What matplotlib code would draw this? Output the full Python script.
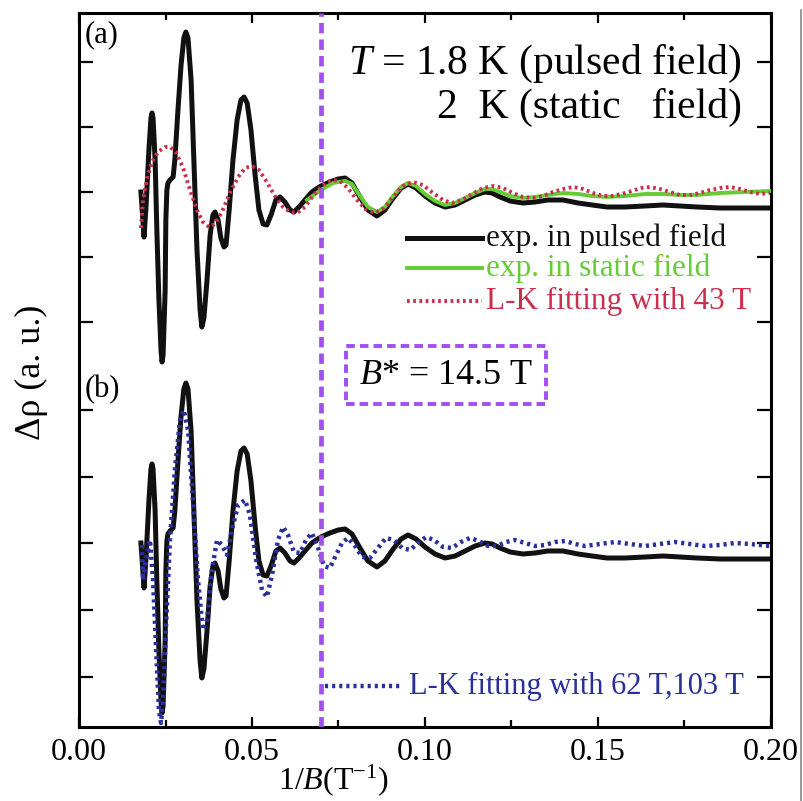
import matplotlib
matplotlib.use("Agg")
import matplotlib.pyplot as plt
from matplotlib.lines import Line2D

plt.rcParams['font.family'] = ['Liberation Serif', 'DejaVu Serif']
plt.rcParams['mathtext.fontset'] = 'custom'
plt.rcParams['mathtext.rm'] = 'Liberation Serif'
plt.rcParams['mathtext.it'] = 'Liberation Serif:italic'

# ---------------- data (1/B in T^-1, delta rho in a.u.) ----------------
pulsed_x = [0.0179, 0.0188, 0.0194, 0.0202, 0.0208, 0.0211, 0.0214, 0.0220, 0.0225, 0.0231,
            0.0237, 0.0240, 0.0243, 0.0249, 0.0251, 0.0254, 0.0257, 0.0263, 0.0272, 0.0277,
            0.0286, 0.0295, 0.0303, 0.0309, 0.0315, 0.0324, 0.0332, 0.0341, 0.0350, 0.0355,
            0.0361, 0.0370, 0.0379, 0.0387, 0.0393, 0.0402, 0.0410, 0.0419, 0.0425, 0.0434,
            0.0445, 0.0457, 0.0468, 0.0477, 0.0486, 0.0497, 0.0509, 0.0520, 0.0532, 0.0543,
            0.0555, 0.0569, 0.0581, 0.0595, 0.0610, 0.0621, 0.0636, 0.0653, 0.0673, 0.0699,
            0.0725, 0.0749, 0.0769, 0.0789, 0.0812, 0.0835, 0.0861, 0.0884, 0.0908, 0.0931,
            0.0951, 0.0974, 0.1000, 0.1029, 0.1058, 0.1087, 0.1116, 0.1145, 0.1173, 0.1194,
            0.1217, 0.1246, 0.1283, 0.1318, 0.1355, 0.1399, 0.1442, 0.1483, 0.1526, 0.1578,
            0.1636, 0.1688, 0.1737, 0.1786, 0.1853, 0.1925, 0.1997]
pulsed_y = [0.0, -4.5, -1.3, 4.2, 7.4, 7.9, 7.4, 3.2, -3.8, -10.8,
            -15.8, -17.0, -16.3, -9.8, -2.8, 0.2, 0.9, 1.2, 1.5, 3.2,
            8.2, 12.7, 15.4, 16.0, 15.4, 11.2, 3.2, -5.8, -11.8, -13.5,
            -12.6, -8.8, -4.3, -2.3, -2.0, -2.8, -4.6, -5.5, -5.3, -1.8,
            3.2, 7.2, 9.2, 9.5, 8.9, 6.2, 1.7, -1.8, -3.2, -3.3,
            -2.3, -0.8, -0.5, -1.0, -1.8, -2.0, -1.5, -0.8, 0.0, 0.6,
            1.0, 1.3, 1.4, 0.9, -0.5, -1.8, -2.4, -1.8, -0.6, 0.4,
            0.8, 0.4, -0.4, -1.1, -1.5, -1.3, -0.8, -0.3, 0.0, -0.1,
            -0.5, -0.9, -1.1, -1.0, -0.8, -0.8, -1.1, -1.3, -1.5, -1.5,
            -1.4, -1.3, -1.4, -1.5, -1.6, -1.6, -1.6]

static_x = [0.0659, 0.0699, 0.0734, 0.0769, 0.0789, 0.0812, 0.0835, 0.0861, 0.0884, 0.0908,
            0.0931, 0.0951, 0.0974, 0.1000, 0.1029, 0.1058, 0.1087, 0.1116, 0.1145, 0.1173,
            0.1194, 0.1217, 0.1246, 0.1283, 0.1318, 0.1355, 0.1399, 0.1442, 0.1483, 0.1526,
            0.1578, 0.1636, 0.1688, 0.1737, 0.1786, 0.1853, 0.1925, 0.1997]
static_y = [-0.8, 0.2, 0.9, 1.1, 0.8, -0.4, -1.5, -2.0, -1.5, -0.4,
            0.5, 0.9, 0.6, -0.2, -0.9, -1.3, -1.1, -0.6, -0.1, 0.3,
            0.3, 0.0, -0.4, -0.6, -0.5, -0.3, -0.1, -0.2, -0.4, -0.5,
            -0.4, -0.2, -0.2, -0.3, -0.3, -0.1, 0.0, 0.1]

lk43_x = [0.0179, 0.0185, 0.0197, 0.0211, 0.0228, 0.0249, 0.0263, 0.0280, 0.0301, 0.0321,
          0.0341, 0.0358, 0.0376, 0.0393, 0.0413, 0.0436, 0.0460, 0.0480, 0.0500, 0.0520,
          0.0543, 0.0566, 0.0590, 0.0610, 0.0630, 0.0653, 0.0676, 0.0699, 0.0717, 0.0734,
          0.0754, 0.0777, 0.0801, 0.0827, 0.0855, 0.0882, 0.0908, 0.0936, 0.0965, 0.0994,
          0.1023, 0.1052, 0.1078, 0.1107, 0.1136, 0.1168, 0.1197, 0.1225, 0.1254, 0.1283,
          0.1312, 0.1341, 0.1370, 0.1399, 0.1428, 0.1457, 0.1486, 0.1514, 0.1540, 0.1569,
          0.1598, 0.1624, 0.1650, 0.1679, 0.1708, 0.1737, 0.1766, 0.1795, 0.1824, 0.1853,
          0.1882, 0.1910, 0.1939, 0.1968, 0.1997]
lk43_y = [-3.6, -0.8, 1.4, 3.0, 4.0, 4.5, 4.5, 4.0, 2.4, 0.2,
          -1.8, -3.0, -3.5, -3.2, -2.0, -0.1, 1.5, 2.4, 2.6, 2.2,
          1.0, -0.4, -1.5, -2.0, -2.1, -1.5, -0.4, 0.5, 1.0, 1.2,
          1.1, 0.4, -0.7, -1.7, -2.1, -1.6, -0.5, 0.6, 1.0, 0.7,
          -0.1, -0.8, -1.1, -0.8, -0.2, 0.4, 0.6, 0.4, -0.1, -0.5,
          -0.6, -0.4, 0.0, 0.3, 0.5, 0.3, -0.1, -0.4, -0.4, -0.2,
          0.1, 0.4, 0.5, 0.3, 0.0, -0.3, -0.3, -0.1, 0.2, 0.4,
          0.5, 0.3, 0.0, -0.2, -0.1]

lk62_103_x = [0.0182, 0.0185, 0.0194, 0.0205, 0.0214, 0.0223, 0.0231, 0.0237, 0.0243, 0.0251,
              0.0263, 0.0277, 0.0292, 0.0303, 0.0315, 0.0329, 0.0344, 0.0358, 0.0370, 0.0384,
              0.0399, 0.0413, 0.0428, 0.0442, 0.0460, 0.0480, 0.0494, 0.0512, 0.0529, 0.0543,
              0.0558, 0.0575, 0.0590, 0.0604, 0.0621, 0.0639, 0.0656, 0.0673, 0.0691, 0.0708,
              0.0725, 0.0743, 0.0760, 0.0777, 0.0798, 0.0818, 0.0841, 0.0864, 0.0887, 0.0910,
              0.0934, 0.0957, 0.0980, 0.1003, 0.1026, 0.1052, 0.1078, 0.1104, 0.1130, 0.1156,
              0.1182, 0.1208, 0.1234, 0.1260, 0.1289, 0.1318, 0.1347, 0.1376, 0.1405, 0.1434,
              0.1462, 0.1506, 0.1549, 0.1592, 0.1636, 0.1679, 0.1723, 0.1766, 0.1809, 0.1853,
              0.1896, 0.1939, 0.1997]
lk62_103_y = [-0.2, -3.7, -1.7, 0.3, -3.7, -10.7, -16.7, -18.0, -15.7, -8.7,
              0.3, 7.3, 12.3, 13.3, 11.3, 4.3, -3.7, -8.7, -7.7, -2.7,
              0.3, -0.2, -1.2, 1.3, 3.8, 4.3, 2.8, -1.7, -4.7, -5.4,
              -3.2, 0.3, 1.6, 0.8, -0.9, -1.0, 0.3, 1.0, -0.5, -2.3,
              -2.5, -1.2, 0.0, 0.5, -0.3, -1.4, -1.5, -0.5, 0.5, 0.3,
              -0.5, -0.7, 0.0, 0.6, 0.3, -0.4, -0.5, 0.1, 0.5, 0.2,
              -0.3, -0.3, 0.1, 0.3, 0.0, -0.3, -0.2, 0.1, 0.2, -0.1,
              -0.3, -0.1, 0.1, -0.1, -0.3, -0.1, 0.1, -0.1, -0.3, -0.2,
              0.0, -0.1, -0.3]

offset_a = 53.5
offset_b = 18.4
b_star = 0.07

xtick_vals = [0.00, 0.05, 0.10, 0.15, 0.20]
xtick_labels = ['0.00', '0.05', '0.10', '0.15', '0.20']
ytick_vals = [5.0, 11.7, 18.4, 25.0, 31.7, 40.5, 47.0, 53.5, 60.0, 66.5]

# ---------------- figure ----------------
fig = plt.figure(figsize=(8.04, 8.01), dpi=100)
ax = fig.add_axes([79/804, 1-727/801, (771-79)/804, (727-13)/801])

black = '#111111'
green = '#66cc33'
red = '#c8304e'
blue = '#2a2f9c'
violet = '#a050ee'

ax.plot(lk43_x, [v + offset_a for v in lk43_y], color=red, lw=2.8, ls=(0, (0.7, 0.9)), zorder=4)
ax.plot(static_x, [v + offset_a for v in static_y], color=green, lw=2.8, zorder=3)
ax.plot(pulsed_x, [v + offset_a for v in pulsed_y], color=black, lw=3.6, zorder=2)

ax.plot(pulsed_x, [v + offset_b for v in pulsed_y], color=black, lw=3.6, zorder=2)
ax.plot(lk62_103_x, [v + offset_b for v in lk62_103_y], color=blue, lw=3.2, ls=(0, (0.7, 0.9)), zorder=4)

ax.axvline(b_star, color=violet, lw=3.4, ls=(0, (2.2, 1.3)), zorder=5)

ax.set_xlim(0, 0.2)
ax.set_ylim(0, 71.4)
ax.set_xticks(xtick_vals)
ax.set_xticklabels(xtick_labels)
ax.set_xticks([0.025, 0.075, 0.125, 0.175], minor=True)
ax.set_yticks(ytick_vals)
ax.set_yticklabels([])
ax.tick_params(axis='both', which='both', direction='in', top=True, right=True, width=1.6)
ax.tick_params(axis='x', which='major', length=7, labelsize=23, pad=8)
ax.tick_params(axis='x', which='minor', length=5)
ax.tick_params(axis='y', which='major', length=10)
for s in ax.spines.values():
    s.set_linewidth(2.2)

ax.set_xlabel(r'1/$B$(T$^{-1}$)', fontsize=23)
ax.xaxis.set_label_coords((333-79)/692, -0.049)
ax.set_ylabel(r'Δρ (a. u.)', fontsize=26)
ax.yaxis.set_label_coords(-0.045, 0.5 - (372-370)/714)

ax.text(0.0015, 69.2, '(a)', fontsize=22, ha='left', va='center')
ax.text(0.0015, 33.7, '(b)', fontsize=22, ha='left', va='center')

ax.text(0.1915, 66.3, r'$T$ = 1.8 K (pulsed field)', fontsize=30, ha='right', va='center')
ax.text(0.1915, 62.0, '2  K (static   field)', fontsize=30, ha='right', va='center')

# legend (a)
leg_rows = [(48.9, black, '-', 'exp. in pulsed field'),
            (45.9, green, '-', 'exp. in static field'),
            (42.6, red, ':', 'L-K fitting with 43 T')]
for yv, c, st, lab in leg_rows:
    if st == '-':
        ax.plot([0.0948, 0.1165], [yv, yv], color=c, lw=3.6 if c == black else 2.8)
    else:
        ax.plot([0.0948, 0.1165], [yv, yv], color=c, lw=2.8, ls=(0, (0.7, 0.9)))
    ax.text(0.1175, yv, lab, fontsize=22.5, color=c, ha='left', va='center')

# legend (b)
ax.plot([0.0711, 0.0935], [4.1, 4.1], color=blue, lw=3.2, ls=(0, (0.7, 0.9)))
ax.text(0.0955, 4.1, 'L-K fitting with 62 T,103 T', fontsize=22, color=blue, ha='left', va='center')

ax.text(0.1060, 35.2, r'$B$* = 14.5 T', fontsize=26, ha='center', va='center',
        bbox=dict(boxstyle='square,pad=0.35', fc='white', ec=violet, lw=2.8, ls=(0, (2.2, 1.3))))

fig.add_artist(Line2D([801/804, 801/804], [0, 1-10/801], color='#888888', lw=1.2,
                      transform=fig.transFigure))

fig.savefig('out.png', dpi=100)
